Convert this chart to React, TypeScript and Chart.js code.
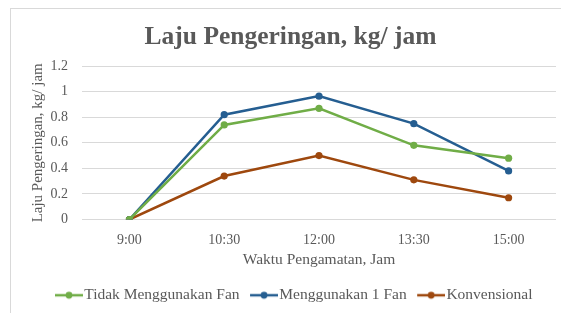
import React, { useEffect, useRef } from "react";
import { Chart, registerables } from "chart.js";

Chart.register(...registerables);

const categories = ["9:00", "10:30", "12:00", "13:30", "15:00"];
const tidakFan = [0, 0.74, 0.87, 0.58, 0.48];
const satuFan = [0, 0.82, 0.965, 0.75, 0.38];
const konvensional = [0, 0.34, 0.5, 0.31, 0.17];
const seriesNames = ["Tidak Menggunakan Fan", "Menggunakan 1 Fan", "Konvensional"];
const seriesColors = ["#70AD47", "#255E91", "#9E480E"];
const chartTitle = "Laju Pengeringan, kg/ jam";
const yTitle = "Laju Pengeringan, kg/ jam";
const xTitle = "Waktu Pengamatan, Jam";

const FONT = "'Liberation Serif', 'Times New Roman', serif";
const TEXT = "#595959";

function legendMarker(color: string) {
  const c = document.createElement("canvas");
  c.width = 41;
  c.height = 12;
  const x = c.getContext("2d")!;
  x.strokeStyle = color;
  x.lineWidth = 2.5;
  x.beginPath();
  x.moveTo(13, 6);
  x.lineTo(41, 6);
  x.stroke();
  x.fillStyle = color;
  x.beginPath();
  x.arc(27, 6, 3.4, 0, Math.PI * 2);
  x.fill();
  return c;
}

export default function App() {
  const ref = useRef<HTMLCanvasElement>(null);
  useEffect(() => {
    if (!ref.current) return;
    const seriesData = [tidakFan, satuFan, konvensional];
    const chart = new Chart(ref.current, {
      type: "line",
      data: {
        labels: categories,
        datasets: seriesNames.map((name, i) => ({
          label: name,
          data: seriesData[i],
          borderColor: seriesColors[i],
          backgroundColor: seriesColors[i],
          borderWidth: 2.5,
          pointRadius: 3.6,
          pointHoverRadius: 3.6,
          pointBorderWidth: 0,
          pointStyle: "circle",
          tension: 0,
        })),
      },
      options: {
        responsive: false,
        animation: false,
        layout: { padding: { left: 14, right: 15, top: 0, bottom: 0 } },
        plugins: {
          title: {
            display: true,
            text: chartTitle,
            color: TEXT,
            font: { family: FONT, size: 25.5, weight: "bold" },
            padding: { top: 13, bottom: 13.5 },
          },
          legend: {
            position: "bottom",
            labels: {
              color: TEXT,
              font: { family: FONT, size: 15.5 },
              usePointStyle: true,
              pointStyleWidth: 28,
              padding: 4,
              generateLabels: (ch: any) =>
                ch.data.datasets.map((ds: any, i: number) => ({
                  text: ds.label,
                  fillStyle: seriesColors[i],
                  strokeStyle: seriesColors[i],
                  lineWidth: 0,
                  hidden: false,
                  datasetIndex: i,
                  fontColor: TEXT,
                  pointStyle: legendMarker(seriesColors[i]),
                })),
            },
          },
          tooltip: { enabled: false },
        },
        scales: {
          x: {
            offset: true,
            grid: { display: false, drawTicks: false },
            border: { display: false },
            ticks: { color: TEXT, font: { family: FONT, size: 14 }, padding: 12, maxRotation: 0 },
            title: {
              display: true,
              text: xTitle,
              color: TEXT,
              font: { family: FONT, size: 15.5 },
              padding: { top: 4, bottom: 14.6 },
            },
            afterFit: (s: any) => {
              s.height = 64;
            },
          },
          y: {
            min: 0,
            max: 1.2,
            grid: { color: "#D9D9D9", lineWidth: 1, drawTicks: false },
            border: { display: false },
            ticks: {
              stepSize: 0.2,
              color: TEXT,
              font: { family: FONT, size: 14 },
              padding: 14,
              callback: (v: any) => String(Math.round(Number(v) * 10) / 10),
            },
            title: {
              display: true,
              text: yTitle,
              color: TEXT,
              font: { family: FONT, size: 15 },
              padding: { top: 4, bottom: 4 },
            },
            afterFit: (s: any) => {
              s.width = 57;
            },
          },
        },
      },
    });
    return () => chart.destroy();
  }, []);

  return (
    <div
      style={{
        position: "fixed",
        left: 0,
        top: 0,
        width: 561,
        height: 313,
        overflow: "hidden",
        background: "#fff",
      }}
    >
      <div
        style={{
          position: "absolute",
          left: 10,
          top: 8,
          width: 560,
          height: 304,
          border: "1px solid #D9D9D9",
          background: "#fff",
        }}
      >
        <canvas ref={ref} width={560} height={304} style={{ display: "block" }} />
      </div>
    </div>
  );
}
